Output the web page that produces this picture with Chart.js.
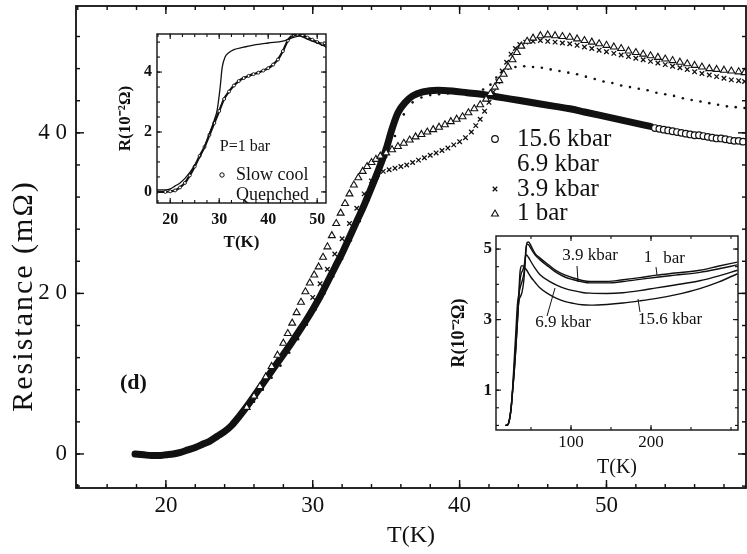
<!DOCTYPE html>
<html>
<head>
<meta charset="utf-8">
<script src="https://cdn.jsdelivr.net/npm/chart.js@4.4.1/dist/chart.umd.min.js"></script>
<style>
body { margin: 0; background: #fff; }
#wrap { position: relative; width: 747px; height: 554px; overflow: hidden; }
canvas { position: absolute; }
</style>
</head>
<body>
<div id="wrap">
  <canvas id="main" width="747" height="554" style="left:0;top:0"></canvas>
  <canvas id="inset1" width="232" height="232" style="left:100px;top:28px"></canvas>
  <canvas id="inset2" width="300" height="256" style="left:445px;top:226px"></canvas>
</div>
<script>
// main panel : T (K) vs R (mOhm)
const p156Dense = [[17.9,0],[18.5,-0.1],[19,-0.2],[19.5,-0.2],[20,-0.1],[20.5,0],[21,0.2],[21.5,0.5],[22,0.8],[22.5,1.2],[23,1.6],[23.5,2.2],[24,2.8],[24.5,3.6],[25,4.7],[25.5,5.9],[26,7.2],[26.5,8.5],[27,9.8],[27.5,11.1],[28,12.4],[28.5,13.7],[29,15.1],[29.5,16.5],[30,18],[30.5,19.6],[31,21.4],[31.5,23.2],[32,25],[32.5,27],[33,29],[33.5,31],[34,33.2],[34.5,35.5],[35,38],[35.4,40.5],[35.8,42.5],[36.3,43.8],[36.8,44.6],[37.5,45.1],[38.5,45.3],[39.5,45.2],[40.5,45],[41.5,44.8],[42.5,44.5],[43.5,44.2],[44.5,43.9],[45.5,43.6],[46.5,43.3],[47.5,43],[48.5,42.6],[49.5,42.2],[50.5,41.8],[51.5,41.4],[52.5,41],[53,40.8]];
const p156Open = [[53.3,40.6],[53.6,40.5],[53.9,40.4],[54.2,40.3],[54.5,40.2],[54.8,40.1],[55.1,40],[55.4,39.9],[55.7,39.8],[56,39.7],[56.3,39.7],[56.6,39.6],[56.9,39.5],[57.2,39.4],[57.5,39.3],[57.8,39.3],[58.1,39.2],[58.4,39.1],[58.7,39],[59,39],[59.3,38.9]];
const p69 = [[26,6.5],[26.6,8],[27.2,9.5],[27.8,11],[28.4,12.6],[29,14.3],[29.6,16.1],[30.2,18],[30.8,20],[31.4,22.1],[32,24.3],[32.6,26.6],[33.2,29],[33.8,31.6],[34.4,34.3],[35,37],[35.6,39.6],[36.2,42.3],[36.8,43.8],[37.4,44.4],[38,44.7],[38.6,44.8],[39.2,44.9],[39.8,44.9],[40.4,44.9],[41,45],[41.6,45.4],[42.1,46],[42.5,46.9],[42.9,47.6],[43.3,48],[43.8,48.2],[44.4,48.3],[45,48.2],[45.6,48.1],[46.2,47.9],[46.8,47.7],[47.4,47.5],[48,47.3],[48.6,47],[49.2,46.7],[49.8,46.4],[50.4,46.2],[51,45.9],[51.6,45.7],[52.2,45.5],[52.8,45.3],[53.4,45],[54,44.8],[54.6,44.6],[55.2,44.3],[55.8,44.1],[56.4,43.9],[57,43.7],[57.6,43.5],[58.2,43.3],[58.8,43.2],[59.4,43.1]];
const p39 = [[30,19.5],[30.5,21.2],[31,23],[31.5,24.9],[32,26.8],[32.5,28.7],[33,30.6],[33.5,32.4],[34,34],[34.4,34.8],[34.8,35.2],[35.2,35.4],[35.6,35.6],[36,35.8],[36.4,36],[36.8,36.3],[37.2,36.6],[37.6,36.9],[38,37.2],[38.4,37.5],[38.8,37.8],[39.2,38.1],[39.6,38.5],[40,38.9],[40.4,39.4],[40.8,40.1],[41.1,40.9],[41.4,41.7],[41.7,42.7],[42,43.8],[42.3,45.1],[42.6,46.4],[42.9,47.7],[43.2,48.8],[43.5,49.8],[43.8,50.5],[44.1,51],[44.5,51.3],[45,51.4],[45.5,51.5],[46,51.4],[46.5,51.3],[47,51.2],[47.5,51.1],[48,50.9],[48.5,50.7],[49,50.5],[49.5,50.3],[50,50.1],[50.5,49.9],[51,49.7],[51.5,49.5],[52,49.3],[52.5,49.1],[53,48.9],[53.5,48.7],[54,48.5],[54.5,48.3],[55,48.1],[55.5,47.9],[56,47.6],[56.5,47.4],[57,47.2],[57.5,47],[58,46.8],[58.5,46.6],[59,46.5],[59.4,46.4]];
const p1bar = [[25.5,5.8],[26,7.2],[26.4,8.4],[26.8,9.6],[27.2,10.9],[27.6,12.3],[28,13.8],[28.3,15],[28.6,16.3],[28.9,17.6],[29.2,18.9],[29.5,20.2],[29.8,21.3],[30.1,22.3],[30.4,23.3],[30.7,24.5],[31,25.8],[31.3,27.2],[31.6,28.7],[31.9,30],[32.2,31.2],[32.5,32.4],[32.8,33.5],[33.1,34.4],[33.4,35.2],[33.7,35.8],[34,36.3],[34.3,36.7],[34.6,37.1],[35,37.5],[35.4,37.9],[35.8,38.3],[36.2,38.7],[36.6,39.1],[37,39.5],[37.4,39.8],[37.8,40.1],[38.2,40.4],[38.6,40.7],[39,41],[39.4,41.4],[39.8,41.7],[40.2,42],[40.6,42.5],[41,43],[41.4,43.5],[41.8,44.2],[42.1,44.9],[42.4,45.7],[42.7,46.5],[43,47.3],[43.3,48.2],[43.6,49.1],[43.9,50],[44.2,50.8],[44.6,51.4],[45,51.8],[45.5,52.1],[46,52.2],[46.5,52.1],[47,52],[47.5,51.9],[48,51.7],[48.5,51.5],[49,51.3],[49.5,51.1],[50,50.9],[50.5,50.7],[51,50.5],[51.5,50.2],[52,50],[52.5,49.8],[53,49.6],[53.5,49.4],[54,49.2],[54.5,49],[55,48.8],[55.5,48.6],[56,48.4],[56.5,48.2],[57,48],[57.5,47.9],[58,47.8],[58.5,47.7],[59,47.6],[59.4,47.5]];
const mainXTicks = [20, 30, 40, 50];
const mainYTicks = [0, 20, 40];
const legendLabels = ['15.6 kbar', '6.9 kbar', '3.9 kbar', '1 bar'];

// inset (top left) : P = 1 bar, R in 10^-2 Ohm
const slowCool = [[17.3,0],[19,0],[20,0.02],[21,0.05],[22,0.15],[23,0.3],[24,0.55],[25,0.85],[26,1.2],[27,1.5],[28,1.9],[29,2.3],[30,2.7],[31,3.1],[32,3.35],[33,3.55],[34,3.7],[35,3.8],[36,3.87],[37,3.93],[38,3.98],[39,4.05],[40,4.13],[41,4.25],[42,4.42],[43,4.7],[44,5.05],[45,5.22],[46,5.25],[47,5.22],[48,5.15],[49,5.08],[50,5],[51,4.93],[51.8,4.88]];
const quenched = [[17.3,0.07],[19,0.07],[20,0.1],[21,0.2],[22,0.3],[23,0.45],[24,0.65],[25,0.9],[26,1.15],[27,1.5],[28,1.95],[29,2.4],[29.6,2.75],[30.2,3.5],[30.6,4.15],[31.2,4.5],[32,4.65],[33,4.75],[35,4.83],[37,4.9],[40,4.97],[43,5.03],[45,5.15],[46.5,5.2],[48,5.1],[50,4.97],[51.8,4.85]];
const inset1XTicks = [20, 30, 40, 50];
const inset1YTicks = [0, 2, 4];

// inset (bottom right) : 0 - 300 K, R in 10^-2 Ohm
const wide1bar = [[18,0],[21,0.02],[23,0.16],[25,0.46],[27,1.05],[29,1.85],[31,2.63],[33,3.42],[35,3.75],[37,3.95],[39,4.1],[41,4.3],[42.4,4.57],[43.6,4.91],[45,5.18],[47,5.2],[50,5.09],[55,4.88],[61,4.75],[72,4.55],[82,4.38],[93,4.26],[103,4.18],[114,4.11],[124,4.08],[145,4.08],[165,4.13],[186,4.19],[207,4.26],[230,4.32],[261,4.4],[285,4.52],[308,4.63]];
const wide39 = [[18,0],[21,0.02],[23,0.16],[25,0.46],[27,0.98],[29,1.6],[31,2.3],[33,3.06],[35,3.54],[37,3.66],[39,3.8],[41,4.1],[42.3,4.5],[43.5,4.98],[45,5.14],[47,5.12],[50,5.01],[55,4.84],[61,4.7],[72,4.5],[82,4.33],[93,4.2],[103,4.13],[114,4.07],[124,4.04],[145,4.04],[165,4.08],[186,4.14],[207,4.2],[230,4.26],[261,4.34],[285,4.44],[308,4.55]];
const wide69 = [[18,0],[21,0.02],[23,0.16],[25,0.46],[27,0.98],[29,1.51],[31,2.2],[33,2.95],[35,3.7],[36.5,4.15],[38,4.32],[40,4.42],[42,4.6],[43.3,4.8],[44.4,4.83],[47,4.76],[50,4.64],[55,4.46],[61,4.28],[72,4.1],[82,3.98],[93,3.88],[103,3.82],[114,3.77],[124,3.75],[145,3.74],[165,3.76],[186,3.82],[207,3.9],[230,3.98],[261,4.1],[285,4.24],[308,4.4]];
const wide156 = [[18,0],[21,0.02],[23,0.16],[25,0.46],[27,0.98],[29,1.51],[31,2.14],[33,2.9],[34,3.32],[35,3.8],[36,4.28],[37,4.46],[38.5,4.53],[40,4.52],[44,4.42],[50,4.2],[55,4.06],[61,3.9],[72,3.72],[82,3.6],[93,3.51],[103,3.46],[114,3.42],[124,3.41],[145,3.43],[165,3.47],[186,3.53],[207,3.6],[230,3.7],[261,3.88],[285,4.07],[308,4.3]];
const inset2XTicks = [100, 200];
const inset2YTicks = [1, 3, 5];

const SERIF = "'Liberation Serif', 'Times New Roman', serif";
const ink = '#111';
const pts = a => a.map(([x, y]) => ({ x, y }));

// frame + inward ticks on all four sides
const frameTicks = {
  id: 'frameTicks',
  beforeDraw(chart, args, o) {
    if (!o.fill) return;
    const a = chart.chartArea, ctx = chart.ctx;
    ctx.save();
    ctx.fillStyle = '#fff';
    ctx.fillRect(a.left, a.top, a.right - a.left, a.bottom - a.top);
    ctx.restore();
  },
  afterDraw(chart, args, o) {
    const { ctx, chartArea: a, scales: { x, y } } = chart;
    ctx.save();
    ctx.strokeStyle = ink;
    ctx.lineWidth = o.lw;
    ctx.strokeRect(a.left, a.top, a.right - a.left, a.bottom - a.top);
    ctx.lineWidth = o.lw * 0.8;
    const seg = (x0, y0, x1, y1) => { ctx.beginPath(); ctx.moveTo(x0, y0); ctx.lineTo(x1, y1); ctx.stroke(); };
    const tx = (v, len) => { const p = x.getPixelForValue(v); seg(p, a.bottom, p, a.bottom - len); seg(p, a.top, p, a.top + len); };
    const ty = (v, len) => { const p = y.getPixelForValue(v); seg(a.left, p, a.left + len, p); seg(a.right, p, a.right - len, p); };
    for (let k = Math.ceil(x.min / o.xMinor); k * o.xMinor <= x.max; k++) tx(k * o.xMinor, o.minor);
    for (let k = Math.ceil(y.min / o.yMinor); k * o.yMinor <= y.max; k++) ty(k * o.yMinor, o.minor);
    o.xMajor.forEach(v => tx(v, o.major));
    o.yMajor.forEach(v => ty(v, o.major));
    ctx.restore();
  }
};

// free text, markers and leader lines (page coordinates)
const notes = {
  id: 'notes',
  afterDraw(chart, args, o) {
    const ctx = chart.ctx;
    ctx.save();
    ctx.translate(-o.dx, -o.dy);
    ctx.strokeStyle = ink;
    (o.items || []).forEach(it => {
      if (it.line) {
        ctx.lineWidth = 1;
        ctx.beginPath(); ctx.moveTo(it.line[0], it.line[1]); ctx.lineTo(it.line[2], it.line[3]); ctx.stroke();
        return;
      }
      if (it.mark) {
        ctx.fillStyle = it.fill || ink;
        ctx.lineWidth = it.mark.borderWidth;
        Chart.helpers.drawPoint(ctx, it.mark, it.x, it.y);
        return;
      }
      ctx.save();
      ctx.fillStyle = ink;
      ctx.translate(it.x, it.y);
      if (it.rot) ctx.rotate(it.rot);
      ctx.font = it.font;
      ctx.letterSpacing = it.ls || '0px';
      ctx.textAlign = it.align || 'left';
      ctx.textBaseline = 'middle';
      ctx.fillText(it.text, 0, 0);
      ctx.restore();
    });
    ctx.restore();
  }
};

function axis(min, max, ticks, font, pad, size, title, fmt) {
  const horizontal = size.h !== undefined;
  return {
    type: 'linear', min, max,
    afterBuildTicks: s => { s.ticks = ticks.map(value => ({ value })); },
    afterFit: s => {
      if (horizontal) s.height = size.h; else s.width = size.w;
      // no extra room for edge labels, the plot box is fixed
      s.paddingTop = s.paddingBottom = s.paddingLeft = s.paddingRight = 0;
    },
    grid: { display: false, drawTicks: false },
    border: { display: false },
    ticks: { font, color: ink, padding: pad, maxRotation: 0, autoSkip: false, callback: fmt || (v => String(v)) },
    title: title || { display: false }
  };
}

const markCircle = { pointStyle: 'circle', radius: 3.3, borderWidth: 1.2 };
const markDot = { pointStyle: 'circle', radius: 1.3, borderWidth: 0 };
const markCross = { pointStyle: 'crossRot', radius: 3.2, borderWidth: 1.3 };
const markTri = { pointStyle: 'triangle', radius: 4, borderWidth: 1.1 };

const base = {
  responsive: false, animation: false, devicePixelRatio: 1, events: [],
  plugins: { legend: { display: false }, tooltip: { enabled: false } }
};

// main chart
new Chart(document.getElementById('main'), {
  type: 'scatter',
  data: {
    datasets: [
      { label: legendLabels[3], data: pts(p1bar), pointStyle: 'triangle', pointRadius: markTri.radius, pointBackgroundColor: '#fff', pointBorderColor: ink, pointBorderWidth: markTri.borderWidth, order: 1 },
      { label: legendLabels[2], data: pts(p39), pointStyle: 'crossRot', pointRadius: markCross.radius, pointBorderColor: ink, pointBorderWidth: markCross.borderWidth, order: 2 },
      { label: legendLabels[1], data: pts(p69), pointRadius: markDot.radius, pointBackgroundColor: ink, pointBorderWidth: 0, order: 3 },
      { label: legendLabels[0], data: pts(p156Open), pointRadius: markCircle.radius, pointBackgroundColor: '#fff', pointBorderColor: ink, pointBorderWidth: markCircle.borderWidth, order: 4 },
      { label: legendLabels[0], data: pts(p156Dense), showLine: true, borderColor: ink, borderWidth: 7, pointRadius: 0,
        cubicInterpolationMode: 'monotone', borderCapStyle: 'round', borderJoinStyle: 'round', order: 5 }
    ]
  },
  options: {
    ...base,
    layout: { autoPadding: false, padding: { top: 6, right: 1, left: 0, bottom: 0 } },
    scales: {
      x: axis(13.88, 59.5, mainXTicks, { family: SERIF, size: 23 }, 4, { h: 66 },
        { display: true, text: 'T(K)', color: ink, font: { family: SERIF, size: 24 }, padding: { top: 0, bottom: 4 } }),
      y: axis(-4.24, 55.8, mainYTicks, { family: SERIF, size: 23 }, 9, { w: 76 }, null,
        v => String(v).split('').join(' '))
    },
    plugins: {
      ...base.plugins,
      frameTicks: { lw: 1.8, major: 8, minor: 4, xMinor: 2, yMinor: 4, xMajor: mainXTicks, yMajor: mainYTicks },
      notes: {
        dx: 0, dy: 0,
        items: [
          { text: 'Resistance (mΩ)', x: 24, y: 296, rot: -Math.PI / 2, align: 'center', font: '30px ' + SERIF, ls: '2px' },
          { text: '(d)', x: 120, y: 383, font: 'bold 22px ' + SERIF },
          { mark: markCircle, fill: '#fff', x: 495, y: 139 },
          { mark: markDot, x: 495, y: 164 },
          { mark: markCross, x: 495, y: 189 },
          { mark: markTri, fill: '#fff', x: 495, y: 214 },
          { text: legendLabels[0], x: 517, y: 139, font: '25px ' + SERIF },
          { text: legendLabels[1], x: 517, y: 164, font: '25px ' + SERIF },
          { text: legendLabels[2], x: 517, y: 189, font: '25px ' + SERIF },
          { text: legendLabels[3], x: 517, y: 213, font: '25px ' + SERIF }
        ]
      }
    }
  },
  plugins: [frameTicks, notes]
});

// inset : slow cool vs quenched
new Chart(document.getElementById('inset1'), {
  type: 'scatter',
  data: {
    datasets: [
      { label: 'Quenched', data: pts(quenched), showLine: true, borderColor: ink, borderWidth: 1.3, pointRadius: 0, cubicInterpolationMode: 'monotone' },
      { label: 'Slow cool', data: pts(slowCool), showLine: true, borderColor: ink, borderWidth: 2.2, pointRadius: 1.5,
        pointBackgroundColor: '#fff', pointBorderColor: ink, pointBorderWidth: 0.9, cubicInterpolationMode: 'monotone' }
    ]
  },
  options: {
    ...base,
    layout: { autoPadding: false, padding: { top: 6, right: 6, left: 0, bottom: 0 } },
    scales: {
      x: axis(17.3, 51.8, inset1XTicks, { family: SERIF, size: 16, weight: 'bold' }, 7, { h: 57 },
        { display: true, text: 'T(K)', color: ink, font: { family: SERIF, size: 17, weight: 'bold' }, padding: { top: 0, bottom: 7 } }),
      y: axis(-0.37, 5.27, inset1YTicks, { family: SERIF, size: 16, weight: 'bold' }, 5, { w: 57 },
        { display: true, text: 'R(10⁻²Ω)', color: ink, font: { family: SERIF, size: 17, weight: 'bold' }, padding: { top: 15, bottom: 0 } })
    },
    plugins: {
      ...base.plugins,
      frameTicks: { fill: true, lw: 1.4, major: 5, minor: 3, xMinor: 2.5, yMinor: 0.5, xMajor: inset1XTicks, yMajor: inset1YTicks },
      notes: {
        dx: 100, dy: 28,
        items: [
          { text: 'P=1 bar', x: 245, y: 147, align: 'center', font: '16px ' + SERIF },
          { mark: { pointStyle: 'circle', radius: 2.2, borderWidth: 1 }, fill: '#fff', x: 222, y: 175 },
          { text: 'Slow cool', x: 236, y: 175, font: '18px ' + SERIF },
          { mark: { pointStyle: 'circle', radius: 1.3, borderWidth: 0 }, x: 223, y: 194 },
          { text: 'Quenched', x: 236, y: 195, font: '18px ' + SERIF }
        ]
      }
    }
  },
  plugins: [frameTicks, notes]
});

// inset : full temperature range
new Chart(document.getElementById('inset2'), {
  type: 'scatter',
  data: {
    datasets: [wide1bar, wide39, wide69, wide156].map((d, i) => ({
      label: legendLabels[3 - i], data: pts(d), showLine: true, borderColor: ink, borderWidth: 1.4,
      pointRadius: 0, cubicInterpolationMode: 'monotone'
    }))
  },
  options: {
    ...base,
    layout: { autoPadding: false, padding: { top: 10, right: 7, left: 0, bottom: 0 } },
    scales: {
      x: axis(6.25, 308.75, inset2XTicks, { family: SERIF, size: 17 }, 2, { h: 52 },
        { display: true, text: 'T(K)', color: ink, font: { family: SERIF, size: 20 }, padding: { top: 0, bottom: 2 } }),
      y: axis(-0.13, 5.37, inset2YTicks, { family: SERIF, size: 17, weight: 'bold' }, 4, { w: 51 },
        { display: true, text: 'R(10⁻²Ω)', color: ink, font: { family: SERIF, size: 18, weight: 'bold' }, padding: { top: 4, bottom: 0 } })
    },
    plugins: {
      ...base.plugins,
      frameTicks: { fill: true, lw: 1.4, major: 5, minor: 3, xMinor: 50, yMinor: 0.5, xMajor: inset2XTicks, yMajor: inset2YTicks },
      notes: {
        dx: 445, dy: 226,
        items: [
          { line: [577, 266, 578, 282] },
          { line: [656, 267, 657, 275] },
          { line: [547, 316, 555, 288] },
          { line: [640, 312, 638, 299] },
          { text: '3.9 kbar', x: 590, y: 256, align: 'center', font: '17px ' + SERIF },
          { text: '1', x: 648, y: 258, align: 'center', font: '17px ' + SERIF },
          { text: 'bar', x: 674, y: 259, align: 'center', font: '17px ' + SERIF },
          { text: '6.9 kbar', x: 563, y: 323, align: 'center', font: '17px ' + SERIF },
          { text: '15.6 kbar', x: 670, y: 320, align: 'center', font: '17px ' + SERIF }
        ]
      }
    }
  },
  plugins: [frameTicks, notes]
});
</script>
</body>
</html>
